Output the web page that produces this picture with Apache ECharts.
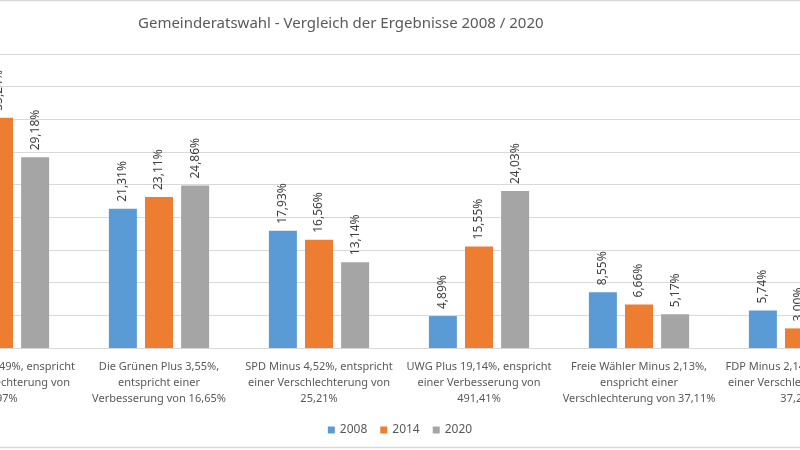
<!DOCTYPE html>
<html>
<head>
<meta charset="utf-8">
<script src="https://cdn.jsdelivr.net/npm/echarts@6/dist/echarts.min.js"></script>
<style>
html,body{margin:0;padding:0;background:#fff;overflow:hidden;}
#c{width:800px;height:450px;}
</style>
</head>
<body>
<div id="c"></div>
<script>
const categories = [
  "CDU Minus 12,49%, enspricht\neiner Verschlechterung von\n29,97%",
  "Die Grünen Plus 3,55%,\nentspricht einer\nVerbesserung von 16,65%",
  "SPD Minus 4,52%, entspricht\neiner Verschlechterung von\n25,21%",
  "UWG Plus 19,14%, enspricht\neiner Verbesserung von\n491,41%",
  "Freie Wähler Minus 2,13%,\nenspricht einer\nVerschlechterung von 37,11%",
  "FDP Minus 2,14%, entspricht\neiner Verschlechterung von\n37,28%"
];
const seriesNames = ["2008", "2014", "2020"];
const values2008 = [41.67, 21.31, 17.93, 4.89, 8.55, 5.74];
const values2014 = [35.24, 23.11, 16.56, 15.55, 6.66, 3.00];
const values2020 = [29.18, 24.86, 13.14, 24.03, 5.17, 3.60];
const colors = ["#5B9BD5", "#ED7D31", "#A5A5A5"];
const titleText = "Gemeinderatswahl - Vergleich der Ergebnisse 2008 / 2020";

const FONT = "Noto Sans";
const chart = echarts.init(document.getElementById('c'));
const fmt = p => p.value.toFixed(2).replace('.', ',') + '%';
const mk = (name, data, color) => ({
  name, type: 'bar', data,
  barWidth: 28, barGap: '29%',
  itemStyle: { color },
  label: {
    show: true, position: 'top', rotate: 90, align: 'left', verticalAlign: 'middle',
    distance: 7, formatter: fmt, color: '#404040', fontSize: 12, fontFamily: FONT
  }
});
chart.setOption({
  animation: false,
  backgroundColor: '#fff',
  title: {
    text: titleText, left: 133, top: 11,
    textStyle: { fontSize: 15, fontWeight: 'normal', color: '#595959', fontFamily: FONT }
  },
  legend: {
    data: seriesNames, left: 'center', top: 419,
    icon: 'rect', itemWidth: 7, itemHeight: 7, itemGap: 13,
    textStyle: { fontSize: 12, color: '#595959', fontFamily: FONT }
  },
  graphic: [
    { type: 'line', shape: { x1: 0, y1: 0.5, x2: 800, y2: 0.5 }, style: { stroke: '#D9D9D9', lineWidth: 1.5 } },
    { type: 'line', shape: { x1: 0, y1: 447.5, x2: 800, y2: 447.5 }, style: { stroke: '#D9D9D9', lineWidth: 1.5 } }
  ],
  grid: { left: -81, right: -79, top: 54, bottom: 102, outerBoundsMode: 'none', containLabel: false },
  xAxis: {
    type: 'category', data: categories,
    axisTick: { show: false },
    axisLine: { lineStyle: { color: '#D9D9D9', width: 1 } },
    axisLabel: { interval: 0, fontSize: 11, lineHeight: 16, color: '#595959', margin: 11, fontFamily: FONT }
  },
  yAxis: {
    type: 'value', min: 0, max: 45, interval: 5,
    axisLabel: { show: false }, axisLine: { show: false }, axisTick: { show: false },
    splitLine: { lineStyle: { color: '#D9D9D9', width: 1 } }
  },
  series: [
    mk(seriesNames[0], values2008, colors[0]),
    mk(seriesNames[1], values2014, colors[1]),
    mk(seriesNames[2], values2020, colors[2])
  ]
});
</script>
</body>
</html>
